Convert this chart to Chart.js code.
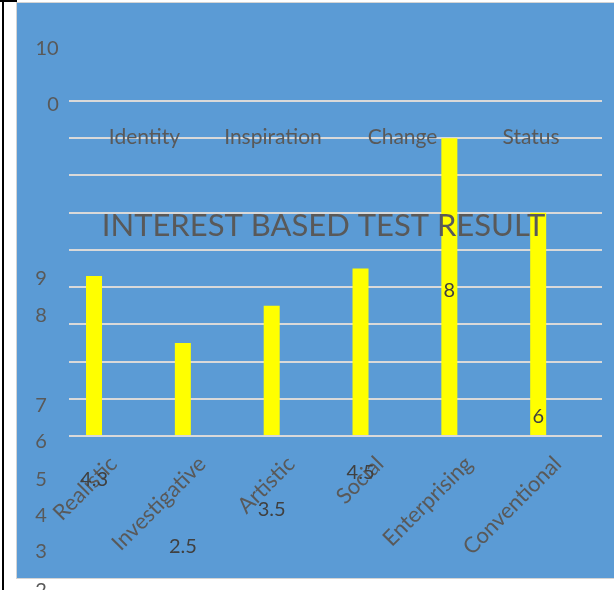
<!DOCTYPE html>
<html>
<head>
<meta charset="utf-8">
<script src="https://cdn.jsdelivr.net/npm/chart.js@4.4.1/dist/chart.umd.min.js"></script>
<style>
  html, body { margin: 0; padding: 0; background: #fff; width: 614px; height: 590px; overflow: hidden; }
  #edge { position: absolute; left: 2px; top: 0; width: 2px; height: 590px; background: #000; }
  #edgeTop { position: absolute; left: 0; top: 0; width: 17px; height: 2px; background: #000; }
  #panel { position: absolute; left: 16px; top: 2px; width: 602px; height: 577px; background: #5b9bd5; border: 1px solid #d4d4d4; box-sizing: border-box; }
  #grafico { position: absolute; left: 0; top: 0; }
</style>
</head>
<body>
<div id="edge"></div>
<div id="edgeTop"></div>
<div id="panel"></div>
<canvas id="grafico" width="614" height="590"></canvas>
<script>
const categorias = ["Realistic", "Investigative", "Artistic", "Social", "Enterprising", "Conventional"];
const pontuacoes = [4.3, 2.5, 3.5, 4.5, 8, 6];
const cabecalhos = ["Identity", "Inspiration", "Change", "Status"];
const numerosSoltos = ["10", "0", "9", "8", "7", "6", "5", "4", "3", "2"];
const tituloTexto = "INTEREST BASED TEST RESULT";

// textos soltos por cima do grafico (o export original saiu todo torto)
const sobreposicao = {
  id: "sobreposicao",
  afterDatasetsDraw(chart, args, opts) {
    const ctx = chart.ctx;
    const y = chart.scales.y;
    ctx.save();
    ctx.textAlign = "center";
    ctx.textBaseline = "middle";

    ctx.fillStyle = "#595959";
    ctx.font = "20px Lato";
    numerosSoltos.forEach((t, i) => {
      ctx.fillText(t, opts.numerosX[i], opts.numerosY[i]);
    });

    ctx.font = "21px Lato";
    cabecalhos.forEach((t, i) => {
      ctx.fillText(t, opts.cabecalhosX[i], opts.cabecalhosY);
    });

    ctx.font = "31px Lato";
    ctx.fillText(tituloTexto, opts.tituloX, opts.tituloY);

    // rotulos de valor
    ctx.fillStyle = "#404040";
    ctx.font = "20px Lato";
    const meta = chart.getDatasetMeta(0);
    meta.data.forEach((bar, i) => {
      const v = pontuacoes[i];
      ctx.fillText(String(v), bar.x, y.getPixelForValue(v + opts.desvio[i]));
    });
    ctx.restore();
  },
};

var grafico = new Chart(document.getElementById("grafico").getContext("2d"), {
  type: "bar",
  data: {
    labels: categorias,
    datasets: [
      {
        label: "Series1",
        data: pontuacoes,
        backgroundColor: "#ffff00",
        borderWidth: 0,
      },
      { label: "Series2", data: categorias.map(() => null), backgroundColor: "#ffff00" },
      { label: "Series3", data: categorias.map(() => null), backgroundColor: "#ffff00" },
    ],
  },
  plugins: [sobreposicao],
  options: {
    animation: false,
    responsive: false,
    categoryPercentage: 0.655,
    barPercentage: 0.825,
    layout: { padding: { left: 69, right: 12, top: 101, bottom: 0 } },
    plugins: {
      legend: { display: false },
      tooltip: { enabled: false },
      sobreposicao: {
        numerosX: [47, 53, 41, 41, 41, 41, 41, 41, 41, 41],
        numerosY: [49, 105, 279, 316, 405.5, 441.5, 480, 515.5, 552, 591],
        cabecalhosX: [144.5, 273, 402.5, 531],
        cabecalhosY: 137,
        tituloX: 323.5,
        tituloY: 226,
        desvio: [-5.48, -5.48, -5.48, -5.48, -4.08, -5.48],
      },
    },
    scales: {
      x: {
        grid: { display: false },
        border: { display: false },
        ticks: {
          autoSkip: false,
          minRotation: 45,
          maxRotation: 45,
          padding: 7,
          color: "#595959",
          font: { family: "Lato", size: 22 },
        },
        afterFit: (scale) => { scale.height = 154; },
      },
      y: {
        min: 0,
        max: 9,
        ticks: { display: false, stepSize: 1 },
        grid: { color: "#d9d9d9", lineWidth: 2, drawTicks: false },
        border: { display: false },
        afterFit: (scale) => { scale.width = 0; },
      },
    },
  },
});
</script>
</body>
</html>
